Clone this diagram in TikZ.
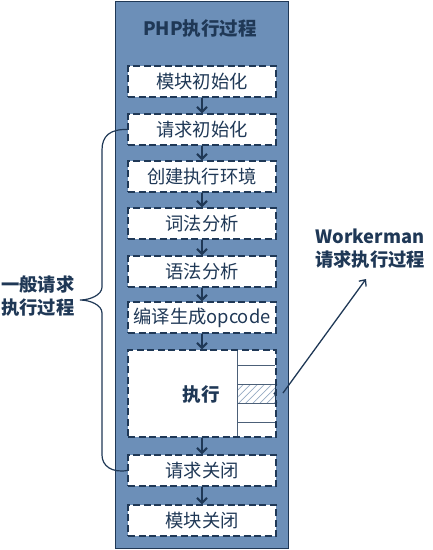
\documentclass[tikz,border=0pt]{standalone}
\usepackage{fontspec}
\setmainfont{Noto Sans CJK SC}
\usetikzlibrary{arrows.meta,patterns.meta,decorations.pathreplacing}
\definecolor{navy}{RGB}{31,56,86}
\definecolor{pblue}{RGB}{108,143,184}
\definecolor{hatchc}{RGB}{150,170,195}
\begin{document}
\begin{tikzpicture}[x=1pt,y=-1pt,
  outerbox/.style={draw=navy,fill=pblue,line width=1.2pt,minimum width=173pt,minimum height=547pt,anchor=north west,inner sep=0pt},
  stepbox/.style={draw=navy,fill=white,line width=1.5pt,dash pattern=on 7pt off 3.5pt,minimum width=148pt,minimum height=31pt,inner sep=0pt,text=navy,font=\fontsize{18.3}{20}\selectfont},
  flow/.style={draw=navy,line width=2pt,-{Straight Barb[length=5pt,width=10pt,line width=2pt]}},
  lbl/.style={text=navy,font=\fontsize{18.3}{23}\selectfont\bfseries,align=center,inner sep=0pt},
  thin/.style={draw=navy!80!white,line width=1pt}
]
\useasboundingbox (0,0) rectangle (432,550);
\node[outerbox] (php) at (115,1) {};
\node[lbl,font=\fontsize{18.5}{20}\selectfont\bfseries] (title) at (200,29) {PHP执行过程};

\node[stepbox] (modinit) at (202,81.5) {模块初始化};
\node[stepbox] (reqinit) at (202,129.5) {请求初始化};
\node[stepbox] (env) at (202,176.5) {创建执行环境};
\node[stepbox] (lex) at (202,223.5) {词法分析};
\node[stepbox] (syn) at (202,271.5) {语法分析};
\node[stepbox] (comp) at (202,317.5) {编译生成opcode};
\node[stepbox,minimum height=87pt] (exec) at (202,393.5) {};
\node[stepbox] (reqclose) at (202,470.5) {请求关闭};
\node[stepbox] (modclose) at (202,520.5) {模块关闭};

% execute box internals
\fill[pattern={Lines[angle=45,distance=5pt,line width=0.7pt]},pattern color=hatchc] (237,384) rectangle (275,403);
\draw[thin] (237,351) -- (237,436);
\draw[thin] (237,365) -- (275,365);
\draw[thin] (237,384) -- (275,384);
\draw[thin] (237,403) -- (275,403);
\draw[thin] (237,422) -- (275,422);
\node[lbl,font=\fontsize{18.5}{20}\selectfont\bfseries] (exectext) at (201,395) {执行};

\draw[flow] (modinit) -- (reqinit);
\draw[flow] (reqinit) -- (env);
\draw[flow] (env) -- (lex);
\draw[flow] (lex) -- (syn);
\draw[flow] (syn) -- (comp);
\draw[flow] (comp) -- (exec);
\draw[flow] (exec) -- (reqclose);
\draw[flow] (reqclose) -- (modclose);

% small brace
\coordinate (bt) at (277,384);
\coordinate (bb) at (277,403);
\draw[navy,line width=1pt,decorate,decoration={brace,amplitude=3pt,mirror}] (bt) -- (bb);
\coordinate (btip) at (283,393);

% workerman label
\node[lbl] (wm) at (370,249) {Workerman\\请求执行过程};
\coordinate (wmend) at (366,279);
\draw[navy,line width=1.3pt,-{Straight Barb[length=5pt,width=9pt,line width=1.3pt]}] (btip) -- (wmend);

% big brace
\node[lbl] (general) at (38,296.5) {一般请求\\执行过程};
\draw[navy,line width=1.2pt] (reqinit.west) .. controls (110,129) and (102,136) .. (102,150) -- (102,287) .. controls (102,295) and (90,300) .. (80,300) .. controls (90,300) and (102,305) .. (102,313) -- (102,455) .. controls (102,466) and (112,473) .. (reqclose.west);
\end{tikzpicture}
\end{document}
